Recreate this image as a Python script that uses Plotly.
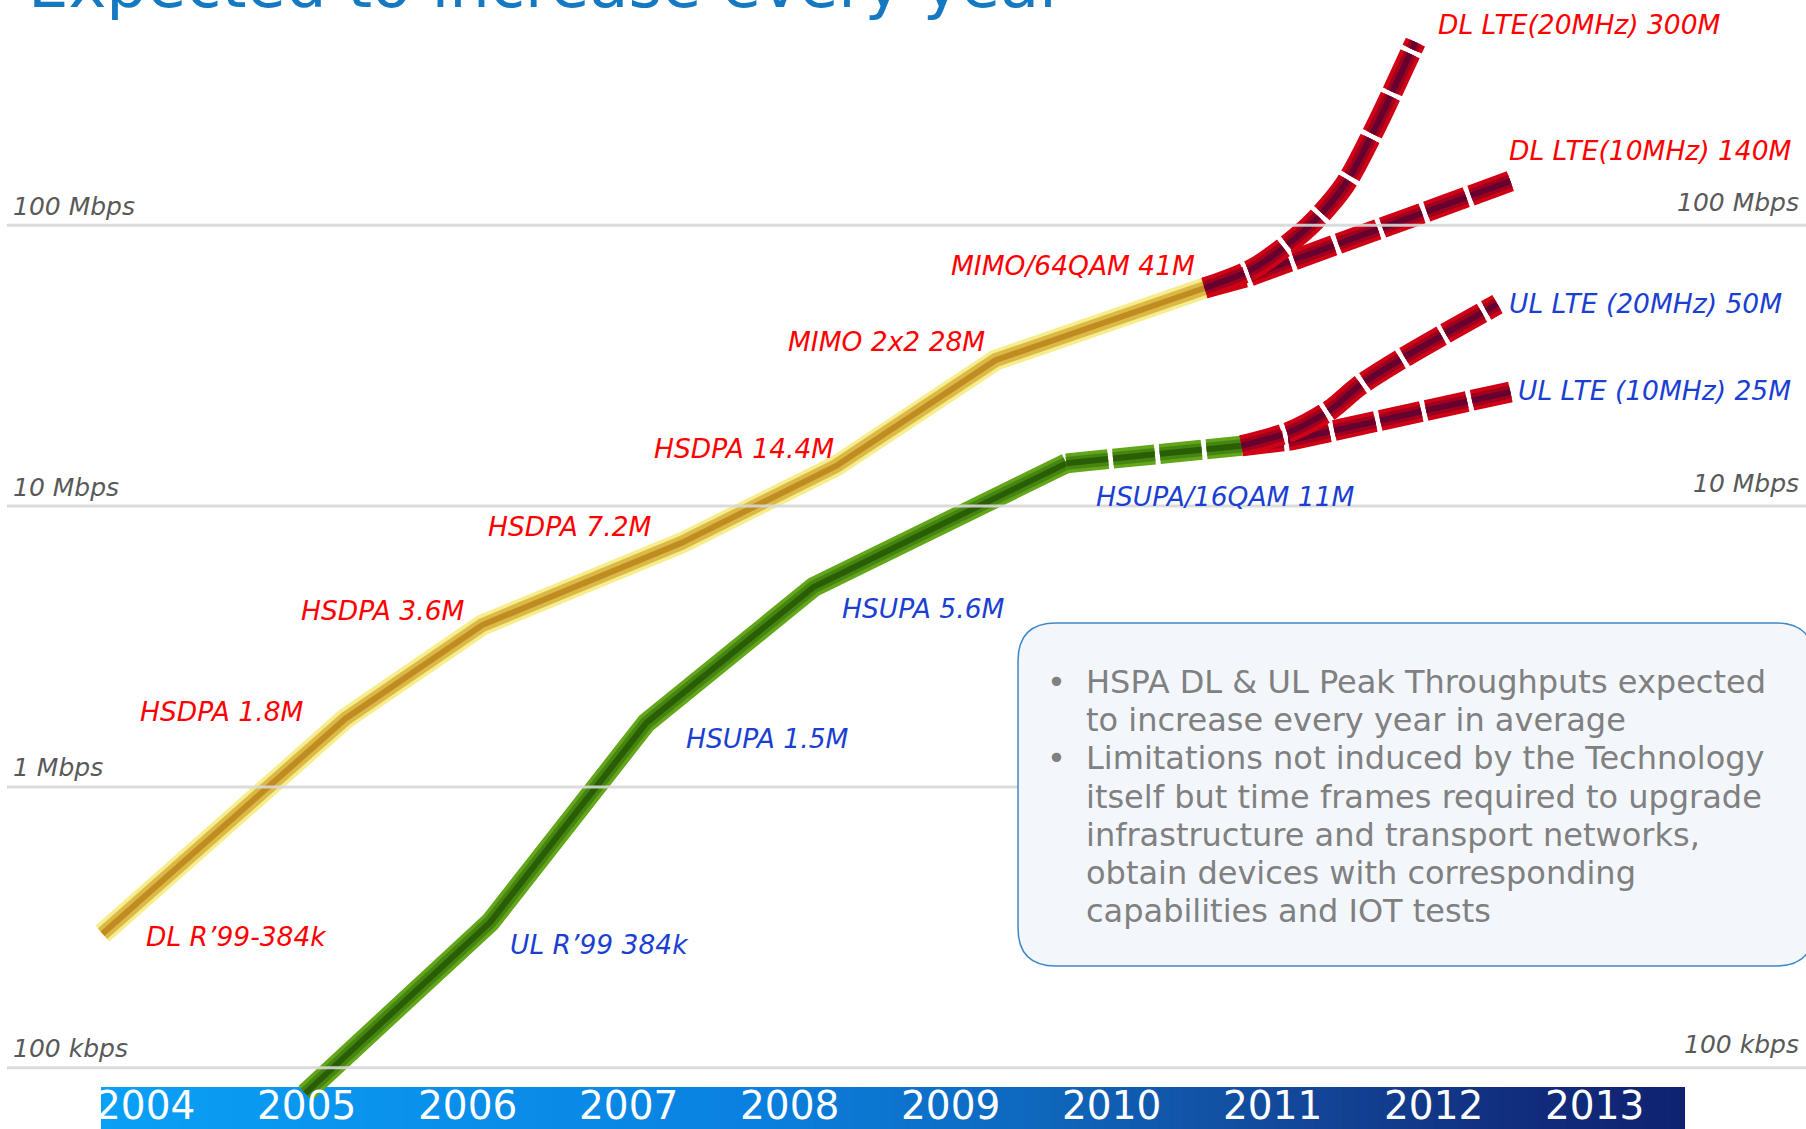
import math
import plotly.graph_objects as go

# ------------------------------------------------------------------ data
year_labels = ["2004", "2005", "2006", "2007", "2008", "2009", "2010", "2011", "2012", "2013"]
year_values = [2004, 2005, 2006, 2007, 2008, 2009, 2010, 2011, 2012, 2013]

# Downlink, HSPA evolution (Mbps)
dl_hspa_year = [2003.73, 2005.24, 2006.09, 2007.33, 2008.29, 2009.28, 2010.58]
dl_hspa_mbps = [0.30, 1.75, 3.77, 7.4, 13.9, 33.1, 59.8]
# Downlink LTE branches
dl_lte20_year = [2010.58, 2010.89, 2011.23, 2011.45, 2011.64, 2011.89]
dl_lte20_mbps = [59.8, 70.5, 99.4, 139.2, 222.1, 449.5]
dl_lte10_year = [2010.58, 2010.86, 2012.50]
dl_lte10_mbps = [59.8, 66.0, 145.0]

# Uplink, HSPA evolution (Mbps)
ul_hspa_year = [2004.99, 2006.14, 2007.11, 2008.15, 2009.72]
ul_hspa_mbps = [0.081, 0.33, 1.69, 5.15, 14.2]
ul_hspa16_year = [2009.72, 2009.99, 2010.37, 2010.81]
ul_hspa16_mbps = [14.2, 14.8, 15.5, 16.4]
# Uplink LTE branches
ul_lte20_year = [2010.81, 2011.11, 2011.36, 2011.54, 2011.79, 2012.07, 2012.40]
ul_lte20_mbps = [16.4, 18.4, 22.0, 26.8, 33.1, 41.0, 52.4]
ul_lte10_year = [2010.81, 2011.12, 2012.48]
ul_lte10_mbps = [16.4, 17.2, 25.5]

grid_values = [100, 10, 1, 0.1]
grid_left_text = ["100 Mbps", "10 Mbps", "1 Mbps", "100 kbps"]
grid_right_text = ["100 Mbps", "10 Mbps", "", "100 kbps"]

dl_label_text = ["DL R’99-384k", "HSDPA 1.8M", "HSDPA 3.6M", "HSDPA 7.2M", "HSDPA 14.4M",
                 "MIMO 2x2 28M", "MIMO/64QAM 41M", "DL LTE(20MHz) 300M", "DL LTE(10MHz) 140M"]
ul_label_text = ["UL R’99 384k", "HSUPA 1.5M", "HSUPA 5.6M", "HSUPA/16QAM 11M",
                 "UL LTE (20MHz) 50M", "UL LTE (10MHz) 25M"]

title_text = "Expected to increase every year"
box_lines = ["HSPA DL & UL Peak Throughputs expected",
             "to increase every year in average",
             "Limitations not induced by the Technology",
             "itself but time frames required to upgrade",
             "infrastructure and transport networks,",
             "obtain devices with corresponding",
             "capabilities and IOT tests"]
box_bullet_lines = [0, 2]

# ------------------------------------------------------------------ layout helpers
W, H = 1806, 1129
FONT = "DejaVu Sans, Verdana, sans-serif"


def px(x):
    return x / W


def py(y):
    return 1 - y / H


fig = go.Figure()

GOLD = (["#f6ed8c", "#dcb946", "#bf8c22"], [21, 14, 6])
GREEN = (["#64a61a", "#468512", "#2a5e05"], [20, 13, 6])
RED = (["#d00015", "#a0001f", "#66002e"], [21, 13, 6])
DASH = "42px,5px"


def tube(x, y, style, dash=None, shape="linear"):
    colors, widths = style
    for c, w in zip(colors, widths):
        fig.add_trace(go.Scatter(
            x=x, y=y, mode="lines",
            line=dict(color=c, width=w, dash=dash, shape=shape, smoothing=0.8),
            hoverinfo="skip", showlegend=False))


tube(ul_hspa_year, ul_hspa_mbps, GREEN)
tube(ul_hspa16_year, ul_hspa16_mbps, GREEN, dash=DASH)
tube(ul_lte10_year, ul_lte10_mbps, RED, dash=DASH)
tube(ul_lte20_year, ul_lte20_mbps, RED, dash=DASH, shape="spline")
tube(dl_hspa_year, dl_hspa_mbps, GOLD)
tube(dl_lte10_year, dl_lte10_mbps, RED, dash=DASH)
tube(dl_lte20_year, dl_lte20_mbps, RED, dash=DASH, shape="spline")

shapes = []
# year band with horizontal gradient
stops = [(0.0, (10, 160, 245)), (0.4, (10, 130, 225)), (0.6, (15, 102, 187)),
         (0.75, (19, 72, 154)), (0.9, (17, 44, 124)), (1.0, (15, 35, 112))]


def grad(t):
    for (t0, c0), (t1, c1) in zip(stops[:-1], stops[1:]):
        if t0 <= t <= t1:
            f = (t - t0) / (t1 - t0)
            return "rgb(%d,%d,%d)" % tuple(round(a + (b - a) * f) for a, b in zip(c0, c1))
    return "rgb(%d,%d,%d)" % stops[-1][1]


bx0, bx1, by0, by1 = 101, 1685, 1087, 1135
n = 120
for i in range(n):
    xa = bx0 + (bx1 - bx0) * i / n
    xb = bx0 + (bx1 - bx0) * (i + 1) / n + 1
    shapes.append(dict(type="rect", xref="paper", yref="paper", x0=px(xa), x1=px(min(xb, bx1)),
                       y0=py(by1), y1=py(by0), fillcolor=grad((i + 0.5) / n),
                       line=dict(width=0), layer="below"))

# grid lines (drawn above the tubes, as in the slide)
for v in grid_values:
    shapes.append(dict(type="line", xref="paper", yref="y", x0=px(7), x1=1, y0=v, y1=v,
                       line=dict(color="rgba(215,215,215,0.9)", width=3), layer="above"))

# rounded info box
x0, x1, t, b, r = 1018, 1814, 623, 966, 38
rx, ry = r, r
path = (f"M {px(x0 + rx)},{py(t)} L {px(x1 - rx)},{py(t)} Q {px(x1)},{py(t)} {px(x1)},{py(t + ry)} "
        f"L {px(x1)},{py(b - ry)} Q {px(x1)},{py(b)} {px(x1 - rx)},{py(b)} "
        f"L {px(x0 + rx)},{py(b)} Q {px(x0)},{py(b)} {px(x0)},{py(b - ry)} "
        f"L {px(x0)},{py(t + ry)} Q {px(x0)},{py(t)} {px(x0 + rx)},{py(t)} Z")
shapes.append(dict(type="path", xref="paper", yref="paper", path=path,
                   fillcolor="#f3f7fc", line=dict(color="#3d88c9", width=1.5), layer="above"))

ann = []
# title (cut by the top edge as in the slide)
ann.append(dict(text=title_text, xref="paper", yref="paper", x=px(26), y=py(-15),
                xanchor="left", yanchor="middle", showarrow=False,
                font=dict(family=FONT, size=64, color="#1479c0")))

# year labels on the band
for lab, yv in zip(year_labels, year_values):
    ann.append(dict(text=lab, xref="x", yref="paper", x=yv, y=py(1105),
                    xanchor="center", yanchor="middle", showarrow=False,
                    font=dict(family=FONT, size=39, color="white")))

# axis value labels (annotations on a log axis take log10 positions)
AX_FONT = dict(family=FONT, size=25, color="#595959", style="italic")
for v, tl, tr in zip(grid_values, grid_left_text, grid_right_text):
    ann.append(dict(text=tl, xref="paper", yref="y", x=px(11), y=math.log10(v), yshift=19,
                    xanchor="left", yanchor="middle", showarrow=False, font=AX_FONT))
    if tr:
        ann.append(dict(text=tr, xref="paper", yref="y", x=px(1801), y=math.log10(v), yshift=23,
                        xanchor="right", yanchor="middle", showarrow=False, font=AX_FONT))

# series labels
dl_label_pos = [(144, 936), (138, 711), (299, 610), (486, 526), (652, 448),
                (786, 342), (949, 266), (1436, 24), (1507, 150)]
ul_label_pos = [(508, 944), (684, 738), (840, 608), (1094, 496), (1507, 303), (1516, 390)]
LAB_SIZE = 26.5
for txt, (xp, yp) in zip(dl_label_text, dl_label_pos):
    ann.append(dict(text=txt, xref="paper", yref="paper", x=px(xp), y=py(yp),
                    xanchor="left", yanchor="middle", showarrow=False,
                    font=dict(family=FONT, size=LAB_SIZE, color="#ff0000", style="italic")))
for txt, (xp, yp) in zip(ul_label_text, ul_label_pos):
    ann.append(dict(text=txt, xref="paper", yref="paper", x=px(xp), y=py(yp),
                    xanchor="left", yanchor="middle", showarrow=False,
                    font=dict(family=FONT, size=LAB_SIZE, color="#1a3fd2", style="italic")))

# box text
BOX_FONT = dict(family=FONT, size=32, color="#808080")
for i, line in enumerate(box_lines):
    yline = 682 + i * 38.2
    ann.append(dict(text=line, xref="paper", yref="paper", x=px(1084), y=py(yline),
                    xanchor="left", yanchor="middle", showarrow=False, font=BOX_FONT))
    if i in box_bullet_lines:
        ann.append(dict(text="•", xref="paper", yref="paper", x=px(1056), y=py(yline),
                        xanchor="center", yanchor="middle", showarrow=False, font=BOX_FONT))

fig.update_layout(
    width=W, height=H, autosize=False,
    margin=dict(l=0, r=0, t=0, b=0, pad=0),
    paper_bgcolor="white", plot_bgcolor="white",
    showlegend=False,
    shapes=shapes, annotations=ann,
    xaxis=dict(range=[2003.0930, 2014.3173], showgrid=False, zeroline=False,
               showticklabels=False, ticks="", showline=False, fixedrange=True),
    yaxis=dict(type="log", range=[-1.2183, 2.8024], showgrid=False, zeroline=False,
               showticklabels=False, ticks="", showline=False, fixedrange=True),
)

fig.write_html("out.html", config={"displayModeBar": False, "staticPlot": True},
               post_script="document.body.style.margin='0';document.body.style.overflow='hidden';")
